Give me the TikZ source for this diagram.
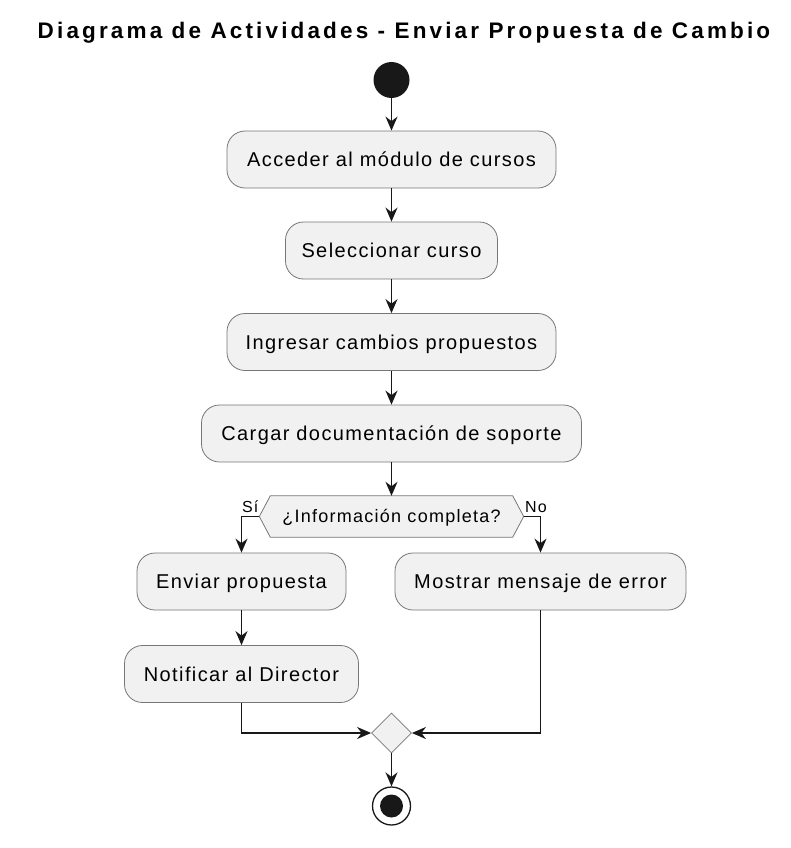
\documentclass[tikz,border=0pt]{standalone}
\usepackage{fontspec}
\setmainfont{Liberation Sans}
\newfontfamily\bodyfont{Liberation Sans}[LetterSpace=7]
\newfontfamily\titlefont{Liberation Sans}[LetterSpace=14]
\usetikzlibrary{shapes.geometric,arrows.meta,backgrounds}
\definecolor{actfill}{HTML}{F1F1F1}
\definecolor{linec}{HTML}{181818}
\definecolor{borderc}{HTML}{777777}
\begin{document}
\begin{tikzpicture}[x=1pt,y=-1pt,
  act/.style={draw=borderc, fill=actfill, line width=0.8pt, rounded corners=18pt,
    minimum height=57pt, inner sep=0pt, text height=14.3pt, text depth=0pt,
    font=\bodyfont\fontsize{20}{24}\selectfont, text=black},
  flow/.style={draw=linec, line width=1.5pt, -{Stealth[length=14pt,width=12pt,inset=4.5pt]}},
  lbl/.style={font=\bodyfont\fontsize{16}{19}\selectfont, inner sep=0pt}
]
\useasboundingbox (0,0) rectangle (790,848);
\node[anchor=base, inner sep=0pt, font=\titlefont\bfseries\fontsize{22.5}{27}\selectfont] (title) at (404,39) {Diagrama de Actividades - Enviar Propuesta de Cambio};

\node[circle, fill=linec, minimum size=36pt, inner sep=0pt] (start) at (391.5,80) {};
\node[act, minimum width=329pt] (a1) at (391.5,159.5) {Acceder al módulo de cursos};
\node[act, minimum width=212pt] (a2) at (391.5,250.5) {Seleccionar curso};
\node[act, minimum width=329pt] (a3) at (391.5,342) {Ingresar cambios propuestos};
\node[act, minimum width=380pt] (a4) at (391.5,433.5) {Cargar documentación de soporte};

\node[minimum width=264pt, minimum height=41pt, inner sep=0pt, text height=12.9pt, text depth=0pt,
  font=\bodyfont\fontsize{18}{21}\selectfont] (hex) at (391.5,516.5) {¿Información completa?};
\begin{pgfonlayer}{background}
\draw[draw=borderc, fill=actfill, line width=0.8pt] (hex.west) -- ([xshift=11pt]hex.north west) -- ([xshift=-11pt]hex.north east) -- (hex.east) -- ([xshift=-11pt]hex.south east) -- ([xshift=11pt]hex.south west) -- cycle;
\end{pgfonlayer}
\node[lbl, anchor=base east] (si) at (258.5,512) {Sí};
\node[lbl, anchor=base west] (no) at (525,512) {No};

\node[act, minimum width=209pt] (b1) at (241.5,581.5) {Enviar propuesta};
\node[act, minimum width=291pt] (c1) at (540.5,581.5) {Mostrar mensaje de error};
\node[act, minimum width=234pt] (b2) at (241.5,674) {Notificar al Director};

\node[diamond, draw=borderc, fill=actfill, line width=0.8pt, minimum width=40pt, minimum height=40pt, inner sep=0pt] (merge) at (391.5,733) {};
\node[circle, draw=linec, fill=white, line width=1.3pt, minimum size=38pt, inner sep=0pt] (end) at (391.5,806) {};
\node[circle, fill=linec, minimum size=23pt, inner sep=0pt] (endin) at (end.center) {};

\draw[flow] (start) -- (a1);
\draw[flow] (a1) -- (a2);
\draw[flow] (a2) -- (a3);
\draw[flow] (a3) -- (a4);
\draw[flow] (a4) -- (hex.north);
\draw[flow] (hex.west) -| (b1.north);
\draw[flow] (hex.east) -| (c1.north);
\draw[flow] (b1) -- (b2);
\draw[flow] (b2.south) |- (merge.west);
\draw[flow] (c1.south) |- (merge.east);
\draw[flow] (merge) -- (end);
\end{tikzpicture}
\end{document}
